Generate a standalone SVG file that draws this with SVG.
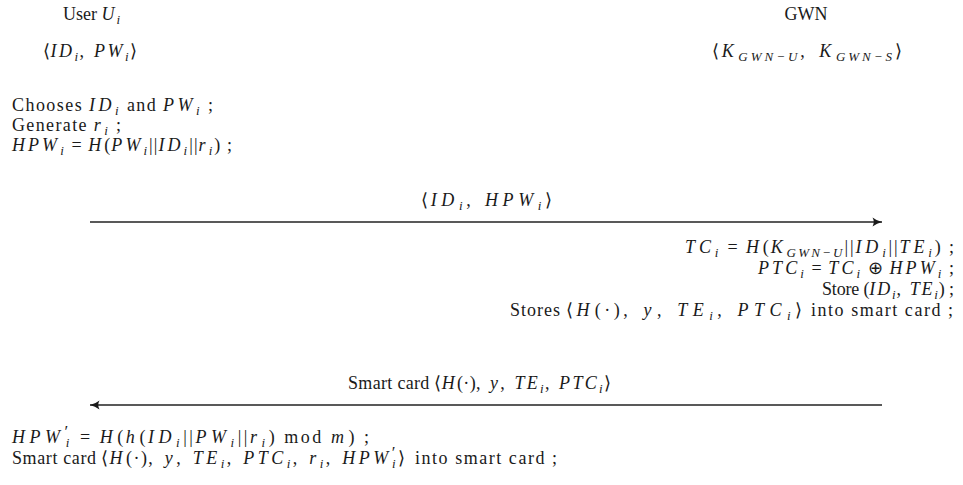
<svg xmlns="http://www.w3.org/2000/svg" width="963" height="485" viewBox="0 0 963 485">
<style>
.t{font-family:"Liberation Serif","Times New Roman",serif;font-size:18px;fill:#1a1a1a}
.m{font-style:italic;letter-spacing:2px}
.s{font-size:13px;letter-spacing:1px}
.k{font-size:13px;font-style:italic;letter-spacing:0.3px}
.p{font-size:17px}
.c{stroke:#222;stroke-width:1.5;fill:none}
</style>
<defs>
<marker id="ah" markerWidth="12" markerHeight="12" refX="10" refY="6" orient="auto" markerUnits="userSpaceOnUse">
<path d="M0.5,1.5 Q5,5 10,6 Q5,7 0.5,10.5 Q3,6 0.5,1.5 Z" fill="#1a1a1a"/>
</marker>
</defs>
<rect width="963" height="485" fill="#fff"/>
<g id="user">
<text class="t" x="63" y="20">User <tspan class="m">U</tspan><tspan class="s m" dy="4">i</tspan></text>
<text class="t" x="43" y="57" textLength="94" lengthAdjust="spacing">⟨<tspan class="m">ID</tspan><tspan class="s m" dy="4">i</tspan><tspan dy="-4">,&#x2002;</tspan><tspan class="m">PW</tspan><tspan class="s m" dy="4">i</tspan><tspan dy="-4">⟩</tspan></text>
<text class="t" x="12" y="111" textLength="201" lengthAdjust="spacing">Chooses <tspan class="m">ID</tspan><tspan class="s m" dy="4">i</tspan><tspan dy="-4"> and </tspan><tspan class="m">PW</tspan><tspan class="s m" dy="4">i</tspan><tspan dy="-4"> ;</tspan></text>
<text class="t" x="12" y="131" textLength="109" lengthAdjust="spacing">Generate <tspan class="m">r</tspan><tspan class="s m" dy="4">i</tspan><tspan dy="-4"> ;</tspan></text>
<text class="t" x="12" y="151" textLength="220" lengthAdjust="spacing"><tspan class="m">HPW</tspan><tspan class="s m" dy="4">i</tspan><tspan dy="-4"> = </tspan><tspan class="m">H</tspan>(<tspan class="m">PW</tspan><tspan class="s m" dy="4">i</tspan><tspan dy="-4">||</tspan><tspan class="m">ID</tspan><tspan class="s m" dy="4">i</tspan><tspan dy="-4">||</tspan><tspan class="m">r</tspan><tspan class="s m" dy="4">i</tspan><tspan dy="-4">) ;</tspan></text>
<text class="t" x="12" y="443" textLength="357" lengthAdjust="spacing"><tspan class="m">HPW</tspan><tspan class="p" dy="-6">′</tspan><tspan class="s m" dx="-5" dy="10">i</tspan><tspan dy="-4"> = </tspan><tspan class="m">H</tspan>(<tspan class="m">h</tspan>(<tspan class="m">ID</tspan><tspan class="s m" dy="4">i</tspan><tspan dy="-4">||</tspan><tspan class="m">PW</tspan><tspan class="s m" dy="4">i</tspan><tspan dy="-4">||</tspan><tspan class="m">r</tspan><tspan class="s m" dy="4">i</tspan><tspan dy="-4">) mod </tspan><tspan class="m">m</tspan>) ;</text>
<text class="t" x="12" y="464" textLength="84" lengthAdjust="spacing">Smart card</text>
<text class="t" x="101" y="464" textLength="304" lengthAdjust="spacing">⟨<tspan class="m">H</tspan>(·),&#x2002;<tspan class="m">y</tspan>,&#x2002;<tspan class="m">TE</tspan><tspan class="s m" dy="4">i</tspan><tspan dy="-4">,&#x2002;</tspan><tspan class="m">PTC</tspan><tspan class="s m" dy="4">i</tspan><tspan dy="-4">,&#x2002;</tspan><tspan class="m">r</tspan><tspan class="s m" dy="4">i</tspan><tspan dy="-4">,&#x2002;</tspan><tspan class="m">HPW</tspan><tspan class="p" dy="-6">′</tspan><tspan class="s m" dx="-5" dy="10">i</tspan><tspan dy="-4">⟩</tspan></text>
<text class="t" x="415" y="464" textLength="142" lengthAdjust="spacing">into smart card ;</text>
</g>
<g id="gwn">
<text class="t" x="806" y="20" text-anchor="middle">GWN</text>
<text class="t" x="712" y="57" textLength="190" lengthAdjust="spacing">⟨<tspan class="m">K</tspan><tspan class="k" dy="4">GWN−U</tspan><tspan dy="-4">,&#x2002;</tspan><tspan class="m">K</tspan><tspan class="k" dy="4">GWN−S</tspan><tspan dy="-4">⟩</tspan></text>
<text class="t" x="685" y="253" textLength="269" lengthAdjust="spacing"><tspan class="m">TC</tspan><tspan class="s m" dy="4">i</tspan><tspan dy="-4"> = </tspan><tspan class="m">H</tspan>(<tspan class="m">K</tspan><tspan class="k" dy="4">GWN−U</tspan><tspan dy="-4">||</tspan><tspan class="m">ID</tspan><tspan class="s m" dy="4">i</tspan><tspan dy="-4">||</tspan><tspan class="m">TE</tspan><tspan class="s m" dy="4">i</tspan><tspan dy="-4">) ;</tspan></text>
<text class="t" x="758" y="274" textLength="196" lengthAdjust="spacing"><tspan class="m">PTC</tspan><tspan class="s m" dy="4">i</tspan><tspan dy="-4"> = </tspan><tspan class="m">TC</tspan><tspan class="s m" dy="4">i</tspan><tspan dy="-4"> ⊕ </tspan><tspan class="m">HPW</tspan><tspan class="s m" dy="4">i</tspan><tspan dy="-4"> ;</tspan></text>
<text class="t" x="822" y="295" textLength="132" lengthAdjust="spacing">Store (<tspan class="m">ID</tspan><tspan class="s m" dy="4">i</tspan><tspan dy="-4">,&#x2002;</tspan><tspan class="m">TE</tspan><tspan class="s m" dy="4">i</tspan><tspan dy="-4">) ;</tspan></text>
<text class="t" x="510" y="316" textLength="50" lengthAdjust="spacing">Stores</text>
<text class="t" x="566" y="316" textLength="236" lengthAdjust="spacing">⟨<tspan class="m">H</tspan>(·),&#x2002;<tspan class="m">y</tspan>,&#x2002;<tspan class="m">TE</tspan><tspan class="s m" dy="4">i</tspan><tspan dy="-4">,&#x2002;</tspan><tspan class="m">PTC</tspan><tspan class="s m" dy="4">i</tspan><tspan dy="-4">⟩</tspan></text>
<text class="t" x="811" y="316" textLength="142" lengthAdjust="spacing">into smart card ;</text>
</g>
<g id="connectors">
<line class="c" x1="90" y1="222" x2="882" y2="222" marker-end="url(#ah)"/>
<text class="t" x="421" y="206" textLength="131" lengthAdjust="spacing">⟨<tspan class="m">ID</tspan><tspan class="s m" dy="4">i</tspan><tspan dy="-4">,&#x2002;</tspan><tspan class="m">HPW</tspan><tspan class="s m" dy="4">i</tspan><tspan dy="-4">⟩</tspan></text>
<line class="c" x1="882" y1="405" x2="90" y2="405" marker-end="url(#ah)"/>
<text class="t" x="348" y="389" textLength="263" lengthAdjust="spacing">Smart card ⟨<tspan class="m">H</tspan>(·),&#x2002;<tspan class="m">y</tspan>,&#x2002;<tspan class="m">TE</tspan><tspan class="s m" dy="4">i</tspan><tspan dy="-4">,&#x2002;</tspan><tspan class="m">PTC</tspan><tspan class="s m" dy="4">i</tspan><tspan dy="-4">⟩</tspan></text>
</g>
</svg>
